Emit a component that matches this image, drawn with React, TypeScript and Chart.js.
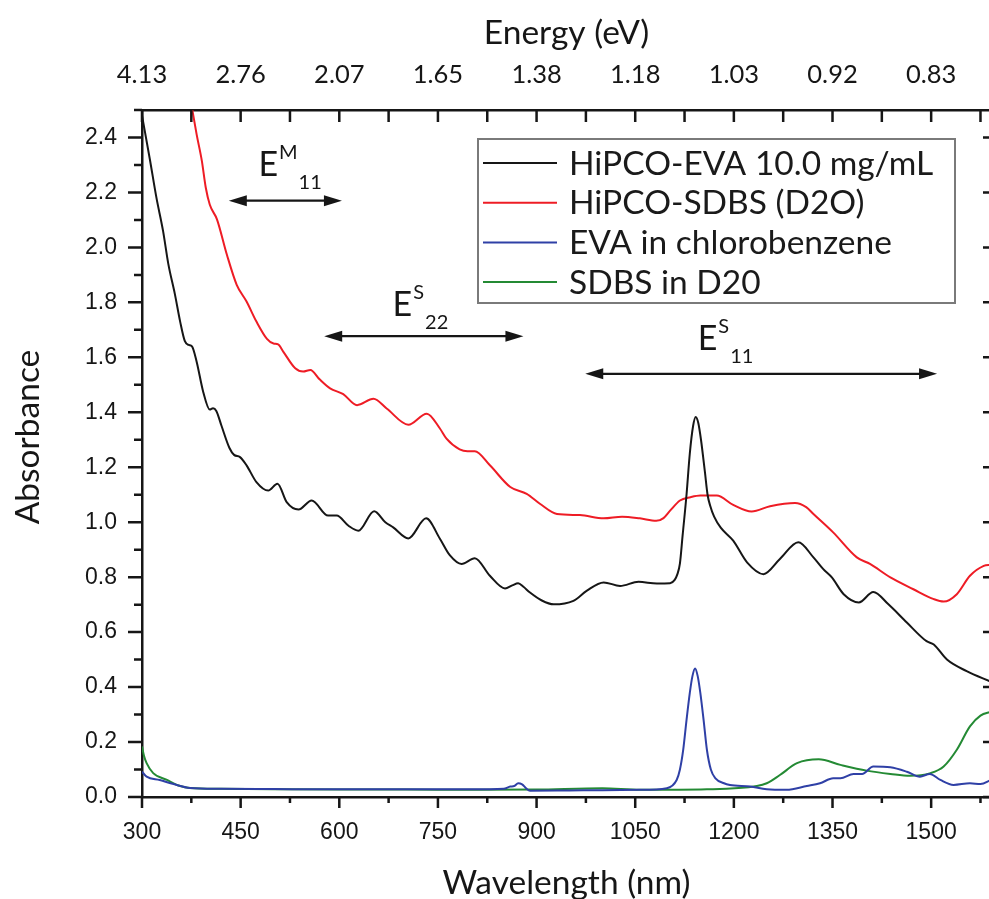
import { useEffect, useRef } from "react";
import { Chart, registerables } from "chart.js";

Chart.register(...registerables);

// Wavelength range (nm) and axis ticks
const X_MIN = 300;
const X_MAX = 1591;
const Y_MIN = 0;
const Y_MAX = 2.5;
const wavelengthTicks = [300, 450, 600, 750, 900, 1050, 1200, 1350, 1500];
const energyTickLabels = ["4.13", "2.76", "2.07", "1.65", "1.38", "1.18", "1.03", "0.92", "0.83"];
const absorbanceTicks = [0, 0.2, 0.4, 0.6, 0.8, 1.0, 1.2, 1.4, 1.6, 1.8, 2.0, 2.2, 2.4];

// HiPCO-EVA 10.0 mg/mL
const evaWavelength = [
  300, 312, 322, 332, 340, 350, 358, 365, 371, 376, 383, 393, 403, 408, 413, 421, 433, 440, 449, 459,
  474, 492, 506, 520, 538, 558, 583, 596, 614, 629, 653, 670, 682, 705, 732, 753, 768, 786, 806, 829,
  852, 863, 872, 880, 890, 908, 926, 956, 976, 1002, 1027, 1055, 1083, 1103, 1110, 1114, 1118, 1122,
  1128, 1133, 1138, 1142, 1146, 1150, 1156, 1160, 1164, 1170, 1180, 1199, 1220, 1245, 1270, 1298, 1321,
  1336, 1349, 1367, 1390, 1412, 1435, 1463, 1493, 1504, 1524, 1554, 1591,
];
const evaAbsorbance = [
  2.48, 2.32, 2.18, 2.06, 1.94, 1.83, 1.73, 1.66, 1.645, 1.64, 1.585, 1.475, 1.41, 1.415, 1.405, 1.35,
  1.27, 1.245, 1.237, 1.207, 1.146, 1.115, 1.14, 1.073, 1.046, 1.079, 1.024, 1.024, 0.987, 0.969, 1.04,
  1.0, 0.981, 0.941, 1.014, 0.94, 0.88, 0.848, 0.869, 0.805, 0.759, 0.77, 0.778, 0.765, 0.744, 0.715,
  0.701, 0.714, 0.75, 0.781, 0.768, 0.783, 0.777, 0.778, 0.79, 0.81, 0.85, 0.95, 1.1, 1.25, 1.35, 1.383,
  1.36, 1.3, 1.182, 1.1, 1.06, 1.02, 0.98, 0.933, 0.854, 0.811, 0.866, 0.927, 0.872, 0.829, 0.799, 0.738,
  0.708, 0.746, 0.701, 0.635, 0.567, 0.555, 0.5, 0.458, 0.419,
];

// HiPCO-SDBS (D2O)
const sdbsTubeWavelength = [
  300, 330, 355, 376, 383, 391, 397, 403, 414, 429, 444, 459, 474, 490, 500, 507, 515, 533, 545, 556,
  570, 586, 606, 627, 652, 672, 705, 733, 753, 763, 783, 795, 806, 829, 860, 885, 905, 931, 966, 1002,
  1030, 1057, 1082, 1093, 1103, 1118, 1134, 1149, 1174, 1199, 1227, 1255, 1293, 1310, 1321, 1351, 1387,
  1407, 1438, 1473, 1504, 1519, 1539, 1559, 1580, 1591,
];
const sdbsTubeAbsorbance = [
  3.7, 3.2, 2.82, 2.507, 2.412, 2.315, 2.217, 2.156, 2.102, 1.974, 1.864, 1.803, 1.73, 1.667, 1.65,
  1.647, 1.62, 1.56, 1.548, 1.554, 1.52, 1.487, 1.466, 1.426, 1.449, 1.414, 1.355, 1.395, 1.341, 1.304,
  1.265, 1.258, 1.258, 1.207, 1.128, 1.103, 1.067, 1.03, 1.026, 1.014, 1.02, 1.014, 1.005, 1.015, 1.042,
  1.079, 1.091, 1.097, 1.097, 1.063, 1.039, 1.058, 1.07, 1.055, 1.03, 0.963, 0.872, 0.848, 0.799, 0.756,
  0.72, 0.711, 0.738, 0.805, 0.841, 0.845,
];

// EVA in chlorobenzene
const evaSolventWavelength = [
  300, 307, 327, 348, 373, 420, 500, 600, 700, 800, 850, 860, 866, 872, 878, 884, 890, 950, 1000, 1057,
  1098, 1113, 1118, 1123, 1128, 1133, 1137, 1141, 1145, 1149, 1154, 1159, 1165, 1172, 1185, 1194, 1225,
  1250, 1280, 1311, 1331, 1351, 1362, 1382, 1395, 1412, 1438, 1463, 1483, 1498, 1514, 1534, 1559, 1575,
  1591,
];
const evaSolventAbsorbance = [
  0.092, 0.074, 0.062, 0.047, 0.033, 0.03, 0.029, 0.028, 0.028, 0.028, 0.03, 0.038, 0.04, 0.05, 0.046,
  0.032, 0.023, 0.024, 0.025, 0.026, 0.032, 0.062, 0.1, 0.172, 0.28, 0.379, 0.44, 0.468, 0.44, 0.379,
  0.28, 0.172, 0.1, 0.068, 0.05, 0.044, 0.038, 0.028, 0.026, 0.04, 0.05, 0.068, 0.068, 0.084, 0.084,
  0.111, 0.108, 0.092, 0.074, 0.084, 0.062, 0.044, 0.05, 0.047, 0.062,
];

// SDBS in D20
const sdbsWavelength = [
  300, 303, 307, 317, 338, 358, 373, 420, 500, 600, 700, 800, 900, 1000, 1057, 1159, 1235, 1250, 1270,
  1296, 1329, 1362, 1402, 1438, 1468, 1499, 1519, 1539, 1559, 1575, 1591,
];
const sdbsAbsorbance = [
  0.184, 0.15, 0.123, 0.087, 0.062, 0.04, 0.033, 0.03, 0.028, 0.027, 0.027, 0.026, 0.027, 0.032, 0.026,
  0.028, 0.04, 0.05, 0.08, 0.123, 0.137, 0.117, 0.096, 0.084, 0.077, 0.087, 0.111, 0.172, 0.257, 0.296,
  0.31,
];

const seriesLabels = ["HiPCO-EVA 10.0 mg/mL", "HiPCO-SDBS (D2O)", "EVA in chlorobenzene", "SDBS in D20"];
const seriesColors = ["#161616", "#ee1c25", "#2f40a6", "#248a34"];

// Optical transition bands: E^sup_sub spanning [start, end] nm
const bandSup = ["M", "S", "S"];
const bandSub = ["11", "22", "11"];
const bandStart = [432, 577, 974];
const bandEnd = [604, 880, 1509];
const bandLevel = [2.17, 1.677, 1.54];
const bandLabelX = [477, 681, 1145];
const bandLabelY = [2.261, 1.75, 1.626];

const INK = "#161616";
const SANS = "Lato, 'Open Sans', sans-serif";
const ARIAL = "'Liberation Sans', Arial, sans-serif";
const TITLE_SIZE = 33.5;

const toPoints = (xs: number[], ys: number[]) => xs.map((x, i) => ({ x, y: ys[i] }));

// Tick marks on all four sides of the frame, plus the vertical axis title
const frameTicks = {
  id: "frameTicks",
  afterDraw(chart: any) {
    const { ctx, chartArea: a, scales } = chart;
    const xs = scales.x;
    const ys = scales.y;
    ctx.save();
    ctx.strokeStyle = INK;
    ctx.lineWidth = 2.5;
    ctx.beginPath();
    for (let v = X_MIN; v <= X_MAX; v += 75) {
      const px = xs.getPixelForValue(v);
      const major = (v - X_MIN) % 150 === 0;
      ctx.moveTo(px, a.bottom);
      ctx.lineTo(px, a.bottom + (major ? 11 : 6));
      ctx.moveTo(px, a.top);
      ctx.lineTo(px, a.top + 12);
    }
    for (let i = 0; i <= 25; i++) {
      const py = ys.getPixelForValue(i / 10);
      const major = i % 2 === 0;
      ctx.moveTo(a.left, py);
      ctx.lineTo(a.left - (major ? 14 : 8), py);
      if (major) {
        ctx.moveTo(a.right, py);
        ctx.lineTo(a.right - 8, py);
      }
    }
    ctx.stroke();

    ctx.translate(28, ys.getPixelForValue(1.31));
    ctx.rotate(-Math.PI / 2);
    ctx.fillStyle = INK;
    ctx.font = `${TITLE_SIZE}px ${SANS}`;
    ctx.textAlign = "center";
    ctx.textBaseline = "middle";
    ctx.fillText("Absorbance", 0, 0);
    ctx.restore();
  },
};

// Double-headed arrows with E labels for the transition bands
const bandMarks = {
  id: "bandMarks",
  afterDatasetsDraw(chart: any) {
    const { ctx, scales } = chart;
    const xs = scales.x;
    const ys = scales.y;
    ctx.save();
    ctx.strokeStyle = INK;
    ctx.fillStyle = INK;
    ctx.lineWidth = 2.2;
    for (let i = 0; i < bandSup.length; i++) {
      const x0 = xs.getPixelForValue(bandStart[i]);
      const x1 = xs.getPixelForValue(bandEnd[i]);
      const yy = ys.getPixelForValue(bandLevel[i]);
      const head = 18;
      const half = 5.5;
      ctx.beginPath();
      ctx.moveTo(x0 + head - 2, yy);
      ctx.lineTo(x1 - head + 2, yy);
      ctx.stroke();
      ctx.beginPath();
      ctx.moveTo(x0, yy);
      ctx.lineTo(x0 + head, yy - half);
      ctx.lineTo(x0 + head, yy + half);
      ctx.closePath();
      ctx.fill();
      ctx.beginPath();
      ctx.moveTo(x1, yy);
      ctx.lineTo(x1 - head, yy - half);
      ctx.lineTo(x1 - head, yy + half);
      ctx.closePath();
      ctx.fill();

      const ex = xs.getPixelForValue(bandLabelX[i]);
      const ey = ys.getPixelForValue(bandLabelY[i]);
      ctx.textBaseline = "alphabetic";
      ctx.textAlign = "left";
      ctx.font = `34px ${SANS}`;
      ctx.fillText("E", ex, ey);
      const ew = ctx.measureText("E").width;
      ctx.font = `20px ${SANS}`;
      ctx.fillText(bandSup[i], ex + ew + 1, ey - 17);
      const sw = ctx.measureText(bandSup[i]).width;
      ctx.fillText(bandSub[i], ex + ew + sw + 2, ey + 13);
    }
    ctx.restore();
  },
};

// Boxed legend in the upper right of the plot
const boxLegend = {
  id: "boxLegend",
  afterDraw(chart: any) {
    const { ctx, chartArea: a } = chart;
    const left = a.left + 336;
    const top = a.top + 29;
    const width = 477;
    const height = 164;
    ctx.save();
    ctx.fillStyle = "#ffffff";
    ctx.fillRect(left, top, width, height);
    ctx.strokeStyle = "#7a7a7a";
    ctx.lineWidth = 2;
    ctx.strokeRect(left, top, width, height);
    ctx.font = `33.5px ${SANS}`;
    ctx.textBaseline = "middle";
    ctx.textAlign = "left";
    chart.data.datasets.forEach((ds: any, i: number) => {
      const cy = top + 24 + i * 39.7;
      ctx.strokeStyle = ds.borderColor;
      ctx.lineWidth = 2;
      ctx.beginPath();
      ctx.moveTo(left + 5, cy);
      ctx.lineTo(left + 79, cy);
      ctx.stroke();
      ctx.fillStyle = "#1a1a1a";
      ctx.fillText(ds.label, left + 91, cy + 1);
    });
    ctx.restore();
  },
};

export default function App() {
  const canvasRef = useRef<HTMLCanvasElement>(null);

  useEffect(() => {
    const canvas = canvasRef.current;
    if (!canvas) return;
    const wlPairs = [
      [evaWavelength, evaAbsorbance],
      [sdbsTubeWavelength, sdbsTubeAbsorbance],
      [evaSolventWavelength, evaSolventAbsorbance],
      [sdbsWavelength, sdbsAbsorbance],
    ];
    const chart = new Chart(canvas, {
      type: "line",
      data: {
        datasets: wlPairs.map(([xs, ys], i) => ({
          label: seriesLabels[i],
          data: toPoints(xs, ys),
          borderColor: seriesColors[i],
          backgroundColor: seriesColors[i],
          borderWidth: 2,
          pointRadius: 0,
          cubicInterpolationMode: "monotone" as const,
          xAxisID: "x",
          yAxisID: "y",
        })),
      },
      options: {
        responsive: false,
        animation: false,
        devicePixelRatio: 1,
        layout: { padding: 0 },
        plugins: { legend: { display: false }, tooltip: { enabled: false } },
        scales: {
          x: {
            type: "linear",
            position: "bottom",
            min: X_MIN,
            max: X_MAX,
            afterBuildTicks: (s: any) => {
              s.ticks = wavelengthTicks.map((value) => ({ value }));
            },
            afterFit: (s: any) => {
              s.height = 102;
            },
            ticks: {
              autoSkip: false,
              maxRotation: 0,
              padding: 22,
              color: INK,
              font: { family: ARIAL, size: 23 },
              callback: (v: any) => String(v),
            },
            grid: { display: false, drawTicks: false },
            border: { display: true, color: INK, width: 2.5 },
            title: {
              display: true,
              text: "Wavelength (nm)",
              color: INK,
              font: { family: SANS, size: TITLE_SIZE, lineHeight: 1 },
              padding: { top: 0, bottom: -1 },
            },
          },
          x2: {
            type: "linear",
            position: "top",
            min: X_MIN,
            max: X_MAX,
            afterBuildTicks: (s: any) => {
              s.ticks = wavelengthTicks.map((value) => ({ value }));
            },
            afterFit: (s: any) => {
              s.height = 110;
            },
            ticks: {
              autoSkip: false,
              maxRotation: 0,
              padding: 20,
              color: INK,
              font: { family: SANS, size: 25.5 },
              callback: (_v: any, i: number) => energyTickLabels[i],
            },
            grid: { display: false, drawTicks: false },
            border: { display: true, color: INK, width: 2.5 },
            title: {
              display: true,
              text: "Energy (eV)",
              color: INK,
              font: { family: SANS, size: TITLE_SIZE, lineHeight: 1 },
              padding: { top: 16, bottom: 0 },
            },
          },
          y: {
            type: "linear",
            position: "left",
            min: Y_MIN,
            max: Y_MAX,
            afterBuildTicks: (s: any) => {
              s.ticks = absorbanceTicks.map((value) => ({ value }));
            },
            afterFit: (s: any) => {
              s.width = 142;
            },
            ticks: {
              padding: 25,
              color: INK,
              font: { family: ARIAL, size: 23 },
              callback: (v: any) => Number(v).toFixed(1),
            },
            grid: { display: false, drawTicks: false },
            border: { display: true, color: INK, width: 2.5 },
          },
          y2: {
            type: "linear",
            position: "right",
            min: Y_MIN,
            max: Y_MAX,
            afterFit: (s: any) => {
              s.width = 9;
            },
            ticks: { display: false },
            grid: { display: false, drawTicks: false },
            border: { display: true, color: INK, width: 2.5 },
          },
        },
      },
      plugins: [frameTicks, bandMarks, boxLegend],
    });
    return () => chart.destroy();
  }, []);

  return (
    <div
      style={{
        position: "fixed",
        left: 0,
        top: 0,
        width: 989,
        height: 899,
        overflow: "hidden",
        background: "#ffffff",
      }}
    >
      <canvas ref={canvasRef} width={1000} height={899} style={{ display: "block", width: 1000, height: 899 }} />
    </div>
  );
}
